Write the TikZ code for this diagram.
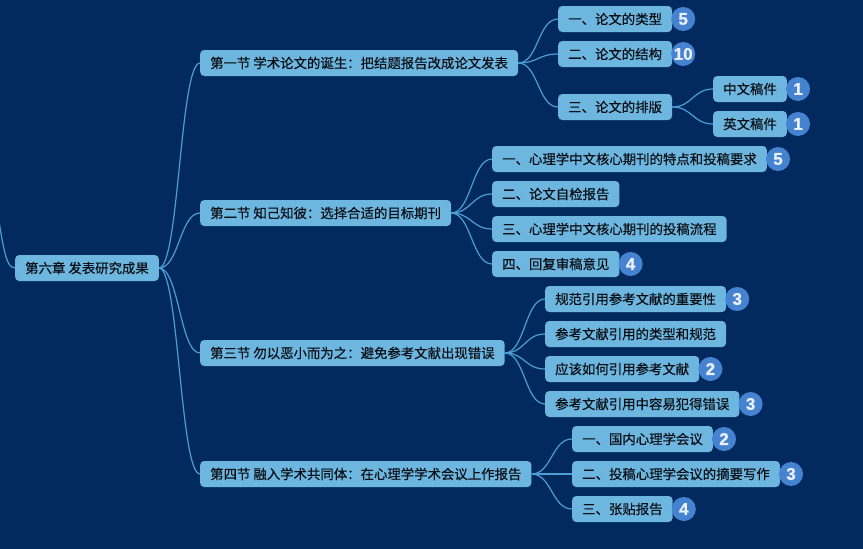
\documentclass[tikz,border=0pt]{standalone}
\usepackage{fontspec}
\setmainfont{Noto Sans CJK SC}[FakeBold=0.4]
\newfontfamily\numfont{Liberation Sans}[FakeBold=1]
\usetikzlibrary{positioning,calc}
\definecolor{bgnavy}{HTML}{022A5F}
\definecolor{boxblue}{HTML}{6CB6E0}
\definecolor{linkblue}{HTML}{4C9ED3}
\definecolor{badgeblue}{HTML}{4582D0}
\definecolor{ink}{HTML}{0B0F16}
\tikzset{
  topic_box/.style={fill=boxblue,rounded corners=4pt,anchor=west,minimum height=26pt,
    inner xsep=10pt,inner ysep=0pt,font=\fontsize{13.4}{15}\selectfont\color{ink}},
  badge/.style={circle,fill=badgeblue,minimum size=24pt,inner sep=0pt,
    font=\numfont\bfseries\fontsize{17}{17}\selectfont\color{white!88!badgeblue}},
  link/.style={draw=linkblue,line width=1.2pt},
}
\newcommand\branch[2]{\draw[link] (#1.east) .. controls ([xshift=20pt]#1.east) and ([xshift=-20pt]#2.west) .. (#2.west);}

\begin{document}
\begin{tikzpicture}[x=1pt,y=-1pt]
    \fill[bgnavy] (0,0) rectangle (863,549);
    \useasboundingbox (0,0) rectangle (863,549);
    % root and sections
    \node[topic_box] (root) at (15,268) {第六章 发表研究成果};
    \node[topic_box] (sec1) at (200,63) {第一节 学术论文的诞生：把结题报告改成论文发表};
    \node[topic_box] (sec2) at (200,213) {第二节 知己知彼：选择合适的目标期刊};
    \node[topic_box] (sec3) at (200,353) {第三节 勿以恶小而为之：避免参考文献出现错误};
    \node[topic_box] (sec4) at (200,474) {第四节 融入学术共同体：在心理学学术会议上作报告};
    % section 1
    \node[topic_box] (s1a) at (558,19) {一、论文的类型};
    \node[topic_box] (s1b) at (558,54) {二、论文的结构};
    \node[topic_box] (s1c) at (558,107) {三、论文的排版};
    \node[topic_box] (s1c1) at (713,89) {中文稿件};
    \node[topic_box] (s1c2) at (713,124) {英文稿件};
    % section 2
    \node[topic_box] (s2a) at (492,159) {一、心理学中文核心期刊的特点和投稿要求};
    \node[topic_box] (s2b) at (492,194) {二、论文自检报告};
    \node[topic_box] (s2c) at (492,229) {三、心理学中文核心期刊的投稿流程};
    \node[topic_box] (s2d) at (492,264) {四、回复审稿意见};
    % section 3
    \node[topic_box] (s3a) at (545,299) {规范引用参考文献的重要性};
    \node[topic_box] (s3b) at (545,334) {参考文献引用的类型和规范};
    \node[topic_box] (s3c) at (545,369) {应该如何引用参考文献};
    \node[topic_box] (s3d) at (545,404) {参考文献引用中容易犯得错误};
    % section 4
    \node[topic_box] (s4a) at (572,439) {一、国内心理学会议};
    \node[topic_box] (s4b) at (572,474) {二、投稿心理学会议的摘要写作};
    \node[topic_box] (s4c) at (572,509) {三、张贴报告};
    % badges
    \node[badge] (n1a) at ([xshift=11pt]s1a.east) {5};
    \node[badge] (n1b) at ([xshift=11pt]s1b.east) {10};
    \node[badge] (n1c1) at ([xshift=11pt]s1c1.east) {1};
    \node[badge] (n1c2) at ([xshift=11pt]s1c2.east) {1};
    \node[badge] (n2a) at ([xshift=11pt]s2a.east) {5};
    \node[badge] (n2d) at ([xshift=11pt]s2d.east) {4};
    \node[badge] (n3a) at ([xshift=11pt]s3a.east) {3};
    \node[badge] (n3c) at ([xshift=11pt]s3c.east) {2};
    \node[badge] (n3d) at ([xshift=11pt]s3d.east) {3};
    \node[badge] (n4a) at ([xshift=11pt]s4a.east) {2};
    \node[badge] (n4b) at ([xshift=11pt]s4b.east) {3};
    \node[badge] (n4c) at ([xshift=11pt]s4c.east) {4};
    % connectors
    \coordinate (offleft) at (-6,190);
    \draw[link] (offleft) .. controls (3,245) and (5,268) .. (root.west);
    \branch{root}{sec1}\branch{root}{sec2}\branch{root}{sec3}\branch{root}{sec4}
    \branch{sec1}{s1a}\branch{sec1}{s1b}\branch{sec1}{s1c}
    \branch{s1c}{s1c1}\branch{s1c}{s1c2}
    \branch{sec2}{s2a}\branch{sec2}{s2b}\branch{sec2}{s2c}\branch{sec2}{s2d}
    \branch{sec3}{s3a}\branch{sec3}{s3b}\branch{sec3}{s3c}\branch{sec3}{s3d}
    \branch{sec4}{s4a}\branch{sec4}{s4b}\branch{sec4}{s4c}
\end{tikzpicture}
\end{document}
